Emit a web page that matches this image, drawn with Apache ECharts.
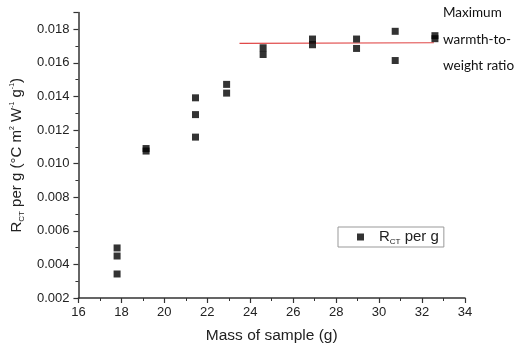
<!DOCTYPE html>
<html><head><meta charset="utf-8">
<script src="https://cdn.jsdelivr.net/npm/echarts@6/dist/echarts.min.js"></script>
<style>html,body{margin:0;padding:0;background:#fff}#c{width:522px;height:349px}</style>
</head><body><div id="c"></div>
<script>
const massG = [17.8, 17.8, 17.8, 19.15, 19.15, 21.45, 21.45, 21.45, 22.9, 22.9, 24.6, 24.6, 26.9, 26.9, 28.95, 28.95, 30.75, 30.75, 32.6, 32.6];
const rctPerG = [0.00498, 0.00450, 0.00343, 0.01090, 0.01075, 0.01392, 0.01292, 0.01158, 0.01472, 0.01420, 0.01690, 0.01650, 0.01742, 0.01708, 0.01742, 0.01686, 0.01788, 0.01614, 0.01762, 0.01744];
const maxLineX = [23.5, 32.55];
const maxLineY = [0.01716, 0.01720];
const xTicks = [16, 18, 20, 22, 24, 26, 28, 30, 32, 34];
const yTicks = [0.002, 0.004, 0.006, 0.008, 0.010, 0.012, 0.014, 0.016, 0.018];
const annotationLines = ['Maximum', 'warmth-to-', 'weight ratio'];

const chart = echarts.init(document.getElementById('c'));
const axisCol = '#333';
const font = 'Liberation Sans';
chart.setOption({
  animation: false,
  backgroundColor: '#fff',
  grid: { left: 77, right: 57, top: 12.5, bottom: 50 },
  xAxis: {
    type: 'value', min: xTicks[0], max: xTicks[xTicks.length - 1], interval: 2,
    name: 'Mass of sample (g)', nameLocation: 'middle', nameGap: 30,
    nameTextStyle: { fontFamily: font, fontSize: 15.5, color: '#222' },
    axisLine: { show: true, onZero: false, lineStyle: { color: axisCol, width: 1.5 } },
    axisTick: { show: true, inside: false, length: 5, lineStyle: { color: axisCol, width: 1.2 } },
    minorTick: { show: true, splitNumber: 2, length: 3, lineStyle: { color: axisCol, width: 1 } },
    splitLine: { show: false },
    axisLabel: { fontFamily: font, fontSize: 13, color: '#222', margin: 8 }
  },
  yAxis: {
    type: 'value', min: yTicks[0], max: 0.019, interval: 0.002,
    name: '{r|R}{s|CT}{r| per g (°C m}{p|2}{r| W}{p|-1}{r| g}{p|-1}{r|)}',
    nameLocation: 'middle', nameGap: 48, nameRotate: 90,
    nameTextStyle: {
      rich: {
        r: { fontFamily: font, fontSize: 15, color: '#222', lineHeight: 18, verticalAlign: 'middle' },
        s: { fontFamily: font, fontSize: 8, color: '#222', lineHeight: 18, padding: [10, 0, 0, 0], verticalAlign: 'middle' },
        p: { fontFamily: font, fontSize: 7, color: '#222', lineHeight: 18, padding: [0, 0, 9, 0], verticalAlign: 'middle' }
      }
    },
    axisLine: { show: true, onZero: false, lineStyle: { color: axisCol, width: 1.5 } },
    axisTick: { show: true, inside: false, length: 5, lineStyle: { color: axisCol, width: 1.2 } },
    minorTick: { show: true, splitNumber: 2, length: 3, lineStyle: { color: axisCol, width: 1 } },
    splitLine: { show: false },
    axisLabel: {
      fontFamily: font, fontSize: 13, color: '#222', margin: 9, showMaxLabel: false,
      formatter: v => v.toFixed(3)
    }
  },
  legend: {
    data: ['rct'], left: 338, top: 227,
    orient: 'horizontal', padding: [1, 5, 1, 19],
    borderColor: '#999', borderWidth: 1, backgroundColor: '#fff',
    itemWidth: 7, itemHeight: 7,
    formatter: () => '{r|R}{s|CT}{r| per g}',
    textStyle: {
      rich: {
        r: { fontFamily: font, fontSize: 15, color: '#222', lineHeight: 19, verticalAlign: 'middle' },
        s: { fontFamily: font, fontSize: 8, color: '#222', lineHeight: 19, padding: [10, 0, 0, 0], verticalAlign: 'middle' }
      },
      padding: [0, 0, 0, 10]
    }
  },
  graphic: annotationLines.map((t, i) => ({
    type: 'text', left: 443, top: 6 + i * 26.5,
    style: { text: t, fontFamily: 'Lato', fontSize: 13.5, fill: '#111' }
  })),
  series: [
    {
      name: 'line', type: 'line', silent: true, symbol: 'none',
      data: maxLineX.map((x, i) => [x, maxLineY[i]]),
      lineStyle: { color: '#e04848', width: 1.2 }, z: 1
    },
    {
      name: 'rct', type: 'scatter', symbol: 'rect', symbolSize: 7,
      data: massG.map((x, i) => [x, rctPerG[i]]),
      itemStyle: { color: '#000' }, z: 3
    }
  ]
});
</script></body></html>
